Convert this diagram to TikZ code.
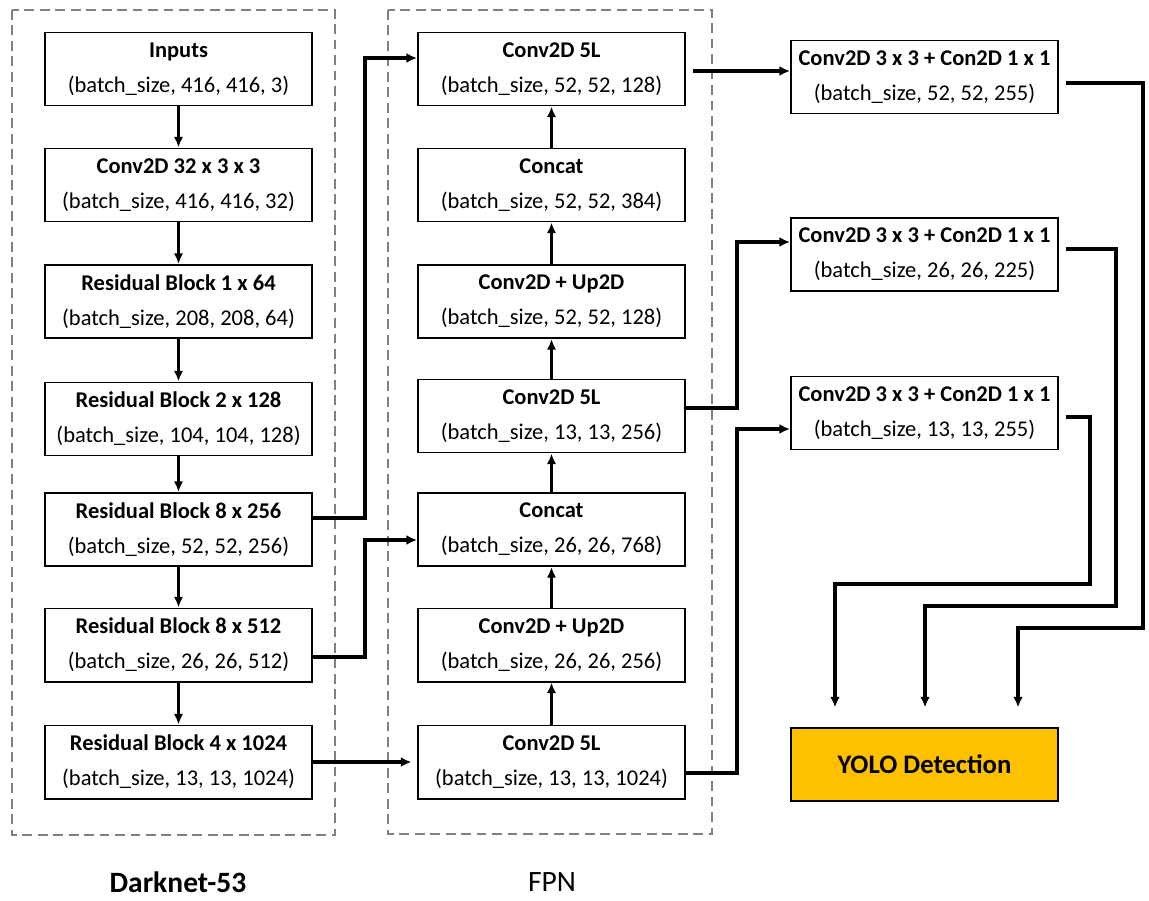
\documentclass[tikz,border=0pt]{standalone}
\usepackage{fontspec}
\setmainfont{Carlito}
\usetikzlibrary{arrows.meta}
\definecolor{yoloorange}{HTML}{FFC000}
\tikzset{
  blk/.style={draw, line width=1.4pt, minimum width=6.675cm, minimum height=1.825cm,
    align=center, inner sep=2pt, font=\fontsize{16}{25}\selectfont},
  flow/.style={line width=2pt, -{Latex[length=7.5pt,width=6.5pt]}},
  link/.style={line width=2.5pt, -{Latex[length=7.5pt,width=7pt]}},
  frame/.style={draw=gray, line width=1.1pt, dash pattern=on 7pt off 4pt},
}
\begin{document}
\begin{tikzpicture}[x=0.025cm,y=-0.025cm]
\useasboundingbox (0,0) rectangle (1149,900);
% frames
\draw[frame] (12,10) rectangle (335,835);
\draw[frame] (388,10) rectangle (712,834);
% Darknet-53
\node[blk] (inp) at (178.5,69) {\textbf{Inputs}\\(batch\_size, 416, 416, 3)};
\node[blk] (cv32) at (178.5,185) {\textbf{Conv2D 32 x 3 x 3}\\(batch\_size, 416, 416, 32)};
\node[blk] (rb64) at (178.5,301.5) {\textbf{Residual Block 1 x 64}\\(batch\_size, 208, 208, 64)};
\node[blk] (rb128) at (178.5,419) {\textbf{Residual Block 2 x 128}\\(batch\_size, 104, 104, 128)};
\node[blk] (rb256) at (178.5,529.5) {\textbf{Residual Block 8 x 256}\\(batch\_size, 52, 52, 256)};
\node[blk] (rb512) at (178.5,645) {\textbf{Residual Block 8 x 512}\\(batch\_size, 26, 26, 512)};
\node[blk] (rb1024) at (178.5,762) {\textbf{Residual Block 4 x 1024}\\(batch\_size, 13, 13, 1024)};
% FPN
\node[blk] (fiveA) at (551.5,69) {\textbf{Conv2D 5L}\\(batch\_size, 52, 52, 128)};
\node[blk] (catA) at (551.5,185) {\textbf{Concat}\\(batch\_size, 52, 52, 384)};
\node[blk] (upA) at (551.5,301.5) {\textbf{Conv2D + Up2D}\\(batch\_size, 52, 52, 128)};
\node[blk] (fiveB) at (551.5,416) {\textbf{Conv2D 5L}\\(batch\_size, 13, 13, 256)};
\node[blk] (catB) at (551.5,529.5) {\textbf{Concat}\\(batch\_size, 26, 26, 768)};
\node[blk] (upB) at (551.5,645) {\textbf{Conv2D + Up2D}\\(batch\_size, 26, 26, 256)};
\node[blk] (fiveC) at (551.5,762) {\textbf{Conv2D 5L}\\(batch\_size, 13, 13, 1024)};
% heads
\node[blk] (headA) at (924.5,77) {\textbf{Conv2D 3 x 3 + Con2D 1 x 1}\\(batch\_size, 52, 52, 255)};
\node[blk] (headB) at (924.5,254.5) {\textbf{Conv2D 3 x 3 + Con2D 1 x 1}\\(batch\_size, 26, 26, 225)};
\node[blk] (headC) at (924.5,413) {\textbf{Conv2D 3 x 3 + Con2D 1 x 1}\\(batch\_size, 13, 13, 255)};
\node[blk, fill=yoloorange, font=\fontsize{19}{23}\selectfont\bfseries] (yolo) at (924.5,764.5) {YOLO Detection};
% labels
\node[font=\fontsize{21}{25}\selectfont\bfseries] (dnlabel) at (178,882) {Darknet-53};
\node[font=\fontsize{21}{25}\selectfont] (fpnlabel) at (552,882) {FPN};
% backbone arrows
\draw[flow] (inp) -- (cv32);
\draw[flow] (cv32) -- (rb64);
\draw[flow] (rb64) -- (rb128);
\draw[flow] (rb128) -- (rb256);
\draw[flow] (rb256) -- (rb512);
\draw[flow] (rb512) -- (rb1024);
% FPN arrows
\draw[flow] (fiveC) -- (upB);
\draw[flow] (upB) -- (catB);
\draw[flow] (catB) -- (fiveB);
\draw[flow] (fiveB) -- (upA);
\draw[flow] (upA) -- (catA);
\draw[flow] (catA) -- (fiveA);
% backbone to FPN
\draw[link] (rb256.east |- 0,518) -- (365,518) |- (fiveA.west |- 0,58);
\draw[link] (rb512.east |- 0,657) -- (365,657) |- (catB.west |- 0,540);
\draw[link, shorten >=4pt] (rb1024.east) -- (fiveC.west);
% FPN to heads
\draw[link, shorten <=5pt] (fiveA.east |- 0,71) -- (headA.west |- 0,71);
\draw[link] (fiveB.east |- 0,408) -- (737,408) |- (headB.west |- 0,242);
\draw[link] (fiveC.east |- 0,773) -- (737,773) |- (headC.west |- 0,429);
% heads to detection
\draw[link, shorten <=5pt, shorten >=14pt] (headA.east |- 0,83) -- (1143,83) |- (1018,628) -- (yolo.north -| 1018,0);
\draw[link, shorten <=5pt, shorten >=14pt] (headB.east |- 0,249) -- (1116,249) |- (925,606) -- (yolo.north -| 925,0);
\draw[link, shorten <=5pt, shorten >=14pt] (headC.east |- 0,417) -- (1090,417) |- (835,584) -- (yolo.north -| 835,0);
\end{tikzpicture}
\end{document}
